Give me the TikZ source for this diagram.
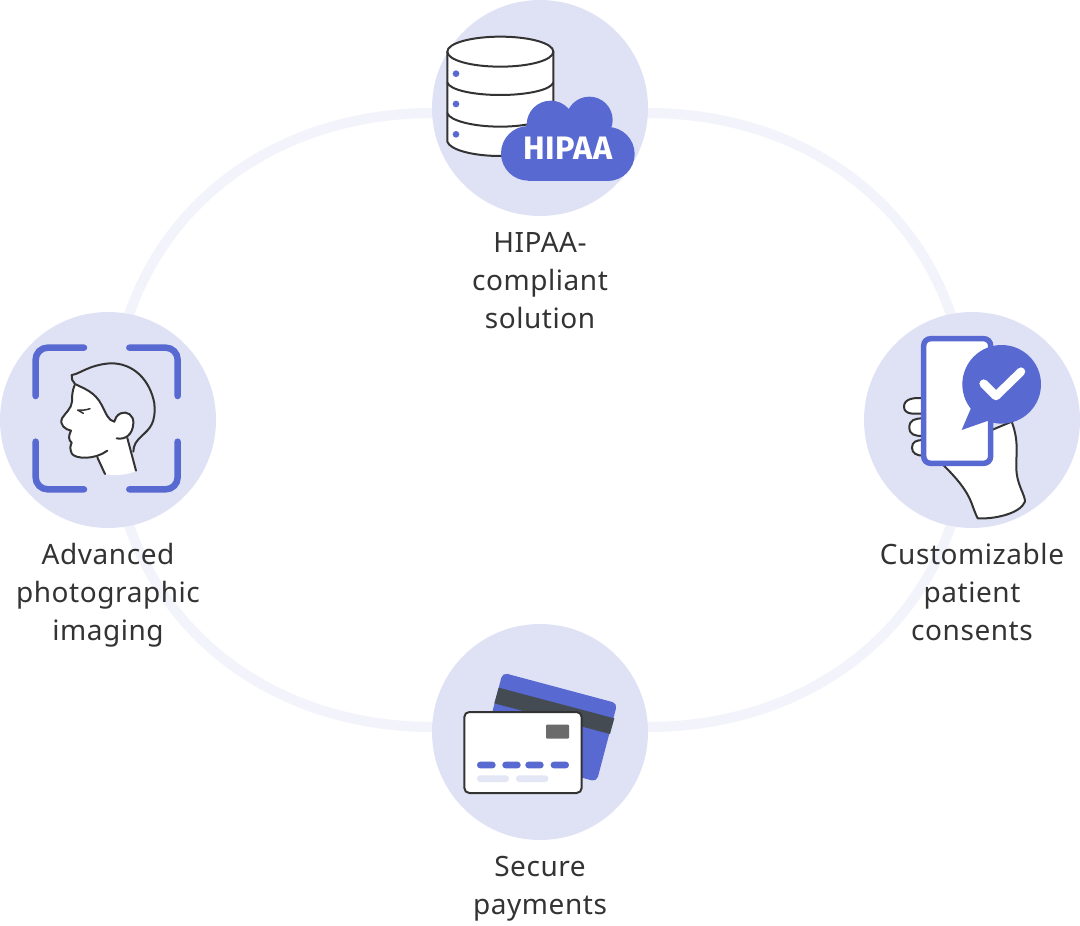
\documentclass[tikz,border=0pt]{standalone}
\usepackage{fontspec}
\setmainfont{Noto Sans}[LetterSpace=2]
\newfontfamily\cloudfont{Fira Sans}[LetterSpace=1]
\definecolor{disc}{HTML}{DFE2F4}
\definecolor{ring}{HTML}{F2F3FB}
\definecolor{brand}{HTML}{5869D1}
\definecolor{ink}{HTML}{333333}
\definecolor{stripe}{HTML}{444B52}
\definecolor{pale}{HTML}{E3E6F5}
\tikzset{
  disc/.style={circle,fill=disc,minimum size=216pt,inner sep=0pt},
  lbl/.style={align=center,text=ink,font=\fontsize{28}{38}\selectfont,inner sep=0pt},
  outline/.style={draw=ink,line width=2pt,line join=round,line cap=round},
  frame/.style={draw=brand,line width=6.5pt,line cap=round,rounded corners=12pt},
}
\begin{document}
\begin{tikzpicture}[x=1pt,y=-1pt]
\useasboundingbox (0,0) rectangle (1080,926);
\fill[white] (0,0) rectangle (1080,926);
\draw[ring,line width=10pt] (433,113) .. controls (248,113) and (112,240) .. (112,420) .. controls (112,600) and (248,727) .. (433,727) -- (647,727) .. controls (832,727) and (968,600) .. (968,420) .. controls (968,240) and (832,113) .. (647,113) -- cycle;
\node[disc] (top) at (540,108) {};
\node[disc] (left) at (108,420) {};
\node[disc] (right) at (972,420) {};
\node[disc] (bottom) at (540,732) {};
\node[lbl] (toplabel) at (540,283) {\strut HIPAA-\\\strut compliant\\\strut solution};
\node[lbl] (leftlabel) at (108,595) {\strut Advanced\\\strut photographic\\\strut imaging};
\node[lbl] (rightlabel) at (972,595) {\strut Customizable\\\strut patient\\\strut consents};
\node[lbl] (bottomlabel) at (540,888) {\strut Secure\\\strut payments};
% database
\begin{scope}[shift={(430,0)},scale=1/3]
\draw[outline,fill=white] (52,155) -- (52,425) .. controls (60,450) and (130,468) .. (211,468) .. controls (290,468) and (362,450) .. (370,425) -- (370,155) -- cycle;
\draw[outline,fill=white] (211,110) .. controls (300,110) and (370,130) .. (370,155) .. controls (370,180) and (300,200) .. (211,200) .. controls (122,200) and (52,180) .. (52,155) .. controls (52,130) and (122,110) .. (211,110) -- cycle;
\draw[outline] (52,248) .. controls (60,270) and (130,285) .. (211,285) .. controls (290,285) and (362,270) .. (370,248);
\draw[outline] (52,340) .. controls (60,362) and (130,380) .. (211,380) .. controls (290,380) and (362,362) .. (370,340);
\fill[brand] (78,221) circle (10) (78,312) circle (10) (78,403) circle (10);
\fill[brand] (295,460) circle (82) (533,462) circle (81) (362,374) circle (72) (478,360) circle (70);
\fill[brand] (295,378) rectangle (533,542);
\end{scope}
\node[text=white,font=\fontsize{32.5}{33}\selectfont\cloudfont\bfseries,inner sep=0pt] (hipaa) at (568,148) {HIPAA};
% face
\begin{scope}[shift={(0,310)},scale=1/3]
\draw[frame] (252,113) -- (107,113) -- (107,258);
\draw[frame] (388,113) -- (533,113) -- (533,258);
\draw[frame] (107,395) -- (107,538) -- (252,538);
\draw[frame] (533,395) -- (533,538) -- (388,538);
\fill[white] (222,222) .. controls (250,235) and (285,245) .. (305,285) .. controls (318,310) and (325,332) .. (345,335) .. controls (352,315) and (375,302) .. (390,312) .. controls (405,325) and (402,372) .. (382,384) -- (408,482) .. controls (385,496) and (340,498) .. (315,492) -- (292,442) .. controls (260,450) and (225,448) .. (215,430) .. controls (208,415) and (212,405) .. (215,398) .. controls (205,390) and (205,378) .. (213,362) .. controls (195,358) and (178,345) .. (186,325) .. controls (195,310) and (215,295) .. (216,275) .. controls (216,250) and (218,235) .. (222,222) -- cycle;
\draw[outline] (350,385) .. controls (375,390) and (398,375) .. (400,340) .. controls (402,315) and (380,302) .. (362,310) .. controls (350,316) and (345,325) .. (343,335) .. controls (325,332) and (318,310) .. (305,285) .. controls (285,245) and (250,235) .. (225,222) .. controls (218,215) and (213,205) .. (215,195) .. controls (240,192) and (265,165) .. (330,160) .. controls (400,158) and (450,210) .. (463,280) .. controls (468,340) and (450,355) .. (425,378) .. controls (410,392) and (400,405) .. (400,425);
\draw[outline] (224,225) .. controls (216,245) and (216,260) .. (216,275) .. controls (215,295) and (195,310) .. (186,325) .. controls (178,345) and (195,358) .. (213,362) .. controls (205,378) and (205,390) .. (215,398) .. controls (212,405) and (208,415) .. (215,430) .. controls (225,448) and (285,450) .. (322,422);
\draw[outline] (292,442) -- (315,492);
\draw[outline] (382,384) -- (408,482);
\draw[outline,line width=1.5pt] (233,300) .. controls (245,302) and (258,300) .. (270,296) (233,300) -- (250,310);
\end{scope}
% phone
\begin{scope}[shift={(860,310)},scale=1/3]
\draw[outline,fill=white] (250,465) .. controls (290,505) and (320,540) .. (335,580) .. controls (342,600) and (348,615) .. (353,625) .. controls (400,628) and (480,612) .. (495,575) .. controls (495,555) and (475,530) .. (470,490) .. controls (465,440) and (480,400) .. (455,335) -- (300,400) -- cycle;
\draw[outline,fill=white] (190,265) .. controls (165,262) and (132,265) .. (132,290) .. controls (132,315) and (165,312) .. (190,310);
\draw[outline,fill=white] (190,325) .. controls (165,325) and (148,330) .. (148,352) .. controls (148,375) and (165,378) .. (190,378);
\draw[outline,fill=white] (190,390) .. controls (170,390) and (156,395) .. (156,413) .. controls (156,430) and (170,437) .. (190,437);
\draw[brand,fill=white,line width=5.5pt,rounded corners=7pt] (191,86) rectangle (392,460);
\fill[brand] (425,223) circle (118);
\fill[brand] (335,290) -- (305,360) -- (385,332) -- cycle;
\draw[white,line width=8.5pt,line cap=round,line join=round] (371,221) -- (408,258) -- (483,185);
\end{scope}
% cards
\begin{scope}[shift={(430,640)},scale=1/3]
\fill[brand,rounded corners=5pt] (218,98) -- (562,190) -- (500,425) -- (156,333) -- cycle;
\fill[stripe] (206,143) -- (553,235) -- (540,282) -- (193,190) -- cycle;
\draw[draw=ink,fill=white,line width=2pt,rounded corners=5pt] (103,216) rectangle (455,459);
\fill[black!58,rounded corners=1pt] (348,254) rectangle (417,296);
\fill[brand,rounded corners=3.2pt] (141,365) rectangle (197,385) (217,365) rectangle (272,385) (286,365) rectangle (341,385) (362,365) rectangle (417,385);
\fill[pale,rounded corners=3.2pt] (141,406) rectangle (237,426) (258,406) rectangle (355,426);
\end{scope}
\end{tikzpicture}
\end{document}
